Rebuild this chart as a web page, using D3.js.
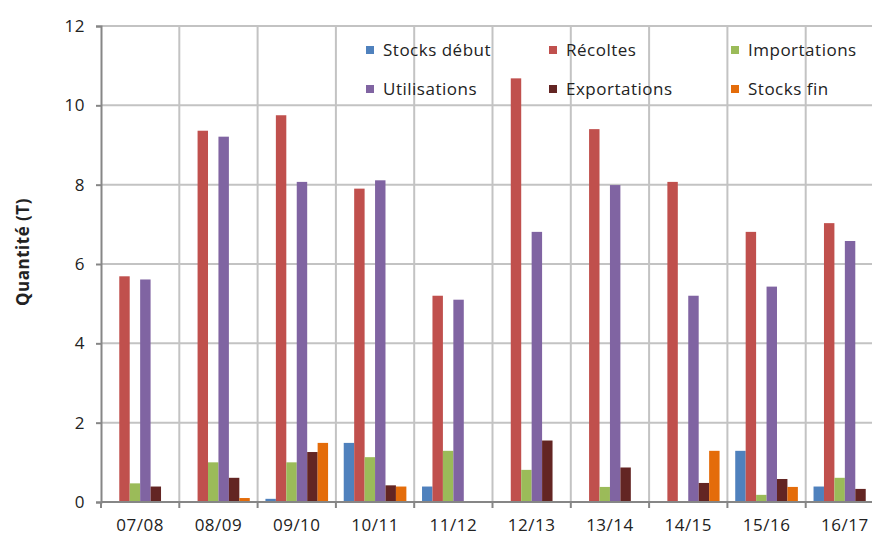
<!DOCTYPE html>
<html>
<head>
<meta charset="utf-8">
<script src="https://cdnjs.cloudflare.com/ajax/libs/d3/7.8.5/d3.min.js"></script>
<style>
  body { margin: 0; background: #fff; }
  text { font-family: "Open Sans", Lato, sans-serif; fill: #222; letter-spacing: 0.5px; }
</style>
</head>
<body>
<svg id="svg" width="872" height="537"></svg>
<script>
var campagnes = ["07/08", "08/09", "09/10", "10/11", "11/12", "12/13", "13/14", "14/15", "15/16", "16/17"];

var series = ["Stocks début", "Récoltes", "Importations", "Utilisations", "Exportations", "Stocks fin"];
var colors = ["#4f81bd", "#c0504d", "#9bbb59", "#8064a2", "#632523", "#e46c0a"];

var stocksDebut  = [0, 0, 0.08, 1.49, 0.39, 0, 0, 0, 1.29, 0.39];
var recoltes     = [5.69, 9.36, 9.75, 7.9, 5.2, 10.68, 9.4, 8.07, 6.81, 7.03];
var importations = [0.47, 1.0, 1.0, 1.13, 1.29, 0.81, 0.38, 0, 0.18, 0.61];
var utilisations = [5.61, 9.21, 8.07, 8.11, 5.1, 6.81, 7.99, 5.2, 5.43, 6.58];
var exportations = [0.39, 0.61, 1.26, 0.42, 0, 1.55, 0.87, 0.48, 0.58, 0.33];
var stocksFin    = [0, 0.1, 1.49, 0.39, 0, 0, 0, 1.29, 0.38, 0];

var yTicks = [0, 2, 4, 6, 8, 10, 12];

var values = [stocksDebut, recoltes, importations, utilisations, exportations, stocksFin];

var svg = d3.select("#svg");

var plotLeft = 101, plotRight = 884, plotTop = 26, plotBottom = 502;

var x = d3.scaleBand()
    .domain(campagnes)
    .range([plotLeft, plotRight])
    .paddingInner(0)
    .paddingOuter(0);

// Excel gap width 150% : bars fill 6 / 7.5 of each category
var inner = d3.scaleBand()
    .domain(d3.range(series.length))
    .range([x.bandwidth() * 0.1, x.bandwidth() * 0.9]);

var y = d3.scaleLinear()
    .domain([0, 12])
    .range([plotBottom, plotTop]);

// horizontal grid
svg.append("g")
  .selectAll("line")
  .data(yTicks.slice(1))
  .enter().append("line")
    .attr("x1", plotLeft).attr("x2", plotRight)
    .attr("y1", function(d) { return y(d); })
    .attr("y2", function(d) { return y(d); })
    .attr("stroke", "#c3c3c3")
    .attr("stroke-width", 2);

// vertical grid at category edges
svg.append("g")
  .selectAll("line")
  .data(campagnes.slice(1))
  .enter().append("line")
    .attr("x1", function(d) { return x(d); })
    .attr("x2", function(d) { return x(d); })
    .attr("y1", plotTop).attr("y2", plotBottom)
    .attr("stroke", "#c3c3c3")
    .attr("stroke-width", 2);

// bars
var groups = svg.append("g")
  .selectAll("g")
  .data(campagnes)
  .enter().append("g")
    .attr("transform", function(d) { return "translate(" + x(d) + ",0)"; });

groups.selectAll("rect")
  .data(function(d, i) {
      return values.map(function(v, s) { return {s: s, v: v[i]}; })
                   .filter(function(b) { return b.v > 0; });
  })
  .enter().append("rect")
    .attr("x", function(d) { return inner(d.s); })
    .attr("width", inner.bandwidth())
    .attr("y", function(d) { return y(d.v); })
    .attr("height", function(d) { return plotBottom - y(d.v); })
    .attr("fill", function(d) { return colors[d.s]; });

// y axis
var yAxis = svg.append("g")
    .attr("transform", "translate(" + plotLeft + ",0)")
    .call(d3.axisLeft(y).tickValues(yTicks).tickSize(5).tickPadding(11).tickFormat(d3.format("d")));
yAxis.select(".domain").attr("stroke", "#868686").attr("stroke-width", 2);
yAxis.selectAll(".tick line").attr("stroke", "#868686").attr("stroke-width", 2);
yAxis.selectAll("text").attr("font-size", 17).attr("fill", "#222").attr("font-family", "'Open Sans', sans-serif");

// x axis
var edges = campagnes.map(function(d) { return x(d); }).concat([plotRight]);
svg.append("line")
    .attr("x1", plotLeft).attr("x2", plotRight)
    .attr("y1", plotBottom).attr("y2", plotBottom)
    .attr("stroke", "#868686").attr("stroke-width", 2);
svg.append("g")
  .selectAll("line")
  .data(edges)
  .enter().append("line")
    .attr("x1", function(d) { return d; })
    .attr("x2", function(d) { return d; })
    .attr("y1", plotBottom).attr("y2", plotBottom + 6)
    .attr("stroke", "#868686").attr("stroke-width", 2);
svg.append("g")
  .selectAll("text")
  .data(campagnes)
  .enter().append("text")
    .attr("x", function(d) { return x(d) + x.bandwidth() / 2; })
    .attr("y", 531)
    .attr("text-anchor", "middle")
    .attr("font-size", 17)
    .text(function(d) { return d; });

// axis title
svg.append("text")
    .attr("transform", "translate(29,252) rotate(-90)")
    .attr("text-anchor", "middle")
    .attr("font-size", 17)
    .attr("font-weight", "bold")
    .text("Quantité (T)");

// legend
var legX = [366, 549, 731], legY = [50, 89];
var legend = svg.append("g")
  .selectAll("g")
  .data(series)
  .enter().append("g")
    .attr("transform", function(d, i) { return "translate(" + legX[i % 3] + "," + legY[Math.floor(i / 3)] + ")"; });
legend.append("rect")
    .attr("x", 0).attr("y", -4)
    .attr("width", 8).attr("height", 8)
    .attr("fill", function(d, i) { return colors[i]; });
legend.append("text")
    .attr("x", 17).attr("y", 6)
    .attr("font-size", 17)
    .text(function(d) { return d; });
</script>
</body>
</html>
